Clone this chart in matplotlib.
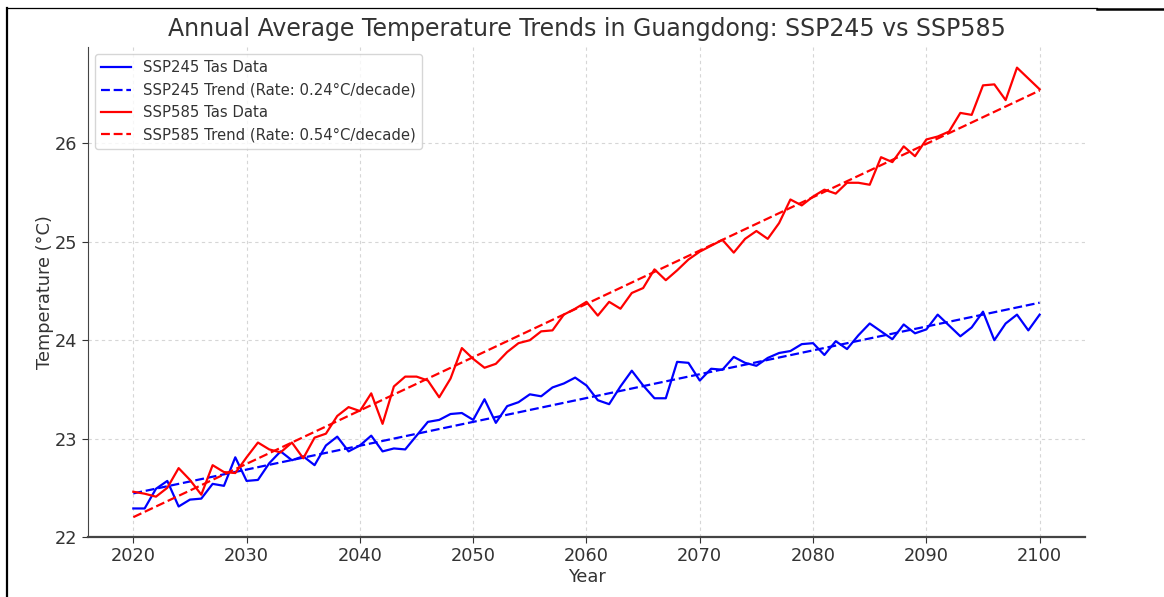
import numpy as np
import matplotlib
matplotlib.use("Agg")
import matplotlib.pyplot as plt
from matplotlib.lines import Line2D

years = list(range(2020, 2101))

ssp245 = [22.29, 22.29, 22.49, 22.57, 22.31, 22.38, 22.39, 22.54, 22.52, 22.81,
          22.57, 22.58, 22.75, 22.87, 22.78, 22.82, 22.73, 22.93, 23.02, 22.87,
          22.93, 23.03, 22.87, 22.90, 22.89, 23.03, 23.17, 23.19, 23.25, 23.26,
          23.19, 23.40, 23.16, 23.33, 23.37, 23.45, 23.43, 23.52, 23.56, 23.62,
          23.54, 23.39, 23.35, 23.53, 23.69, 23.54, 23.41, 23.41, 23.78, 23.77,
          23.59, 23.71, 23.70, 23.83, 23.77, 23.74, 23.82, 23.87, 23.89, 23.96,
          23.97, 23.85, 23.99, 23.91, 24.05, 24.17, 24.09, 24.01, 24.16, 24.07,
          24.11, 24.26, 24.15, 24.04, 24.13, 24.29, 24.00, 24.17, 24.26, 24.10,
          24.26]

ssp585 = [22.46, 22.44, 22.41, 22.50, 22.70, 22.58, 22.43, 22.73, 22.66, 22.65,
          22.81, 22.96, 22.89, 22.86, 22.96, 22.80, 23.01, 23.05, 23.23, 23.32,
          23.28, 23.46, 23.15, 23.53, 23.63, 23.63, 23.59, 23.42, 23.61, 23.92,
          23.81, 23.72, 23.76, 23.88, 23.97, 24.00, 24.09, 24.10, 24.26, 24.32,
          24.39, 24.25, 24.39, 24.32, 24.48, 24.53, 24.72, 24.61, 24.71, 24.82,
          24.90, 24.96, 25.02, 24.89, 25.03, 25.11, 25.03, 25.19, 25.43, 25.37,
          25.46, 25.53, 25.49, 25.60, 25.60, 25.58, 25.86, 25.81, 25.97, 25.87,
          26.04, 26.07, 26.12, 26.31, 26.29, 26.59, 26.60, 26.44, 26.77, 26.66,
          26.55]

labels = ["SSP245 Tas Data", "SSP245 Trend (Rate: 0.24°C/decade)",
          "SSP585 Tas Data", "SSP585 Trend (Rate: 0.54°C/decade)"]
title = "Annual Average Temperature Trends in Guangdong: SSP245 vs SSP585"
xticks = list(range(2020, 2101, 10))
yticks = [22, 23, 24, 25, 26]

x = np.array(years, dtype=float)
t245 = np.polyval(np.polyfit(x, ssp245, 1), x)
t585 = np.polyval(np.polyfit(x, ssp585, 1), x)

txt = "#333333"
fig = plt.figure(figsize=(11.64, 5.97), dpi=100)
ax = fig.add_axes([0.0756, 0.1005, 0.8565, 0.8208])

lw = 1.6
ax.plot(x, ssp245, color="blue", lw=lw, label=labels[0])
ax.plot(x, t245, color="blue", lw=lw, ls=(0, (4, 1.7)), label=labels[1])
ax.plot(x, ssp585, color="red", lw=lw, label=labels[2])
ax.plot(x, t585, color="red", lw=lw, ls=(0, (4, 1.7)), label=labels[3])

ax.set_xlim(2016, 2104)
ax.set_ylim(22.0, 26.98)
ax.set_xticks(xticks)
ax.set_yticks(yticks)
ax.tick_params(labelsize=12.8, colors=txt, length=4)
ax.grid(True, ls=(0, (3, 3)), color="#cccccc", lw=0.8, alpha=0.8)
ax.set_axisbelow(True)
for s in ("top", "right"):
    ax.spines[s].set_visible(False)
ax.spines["left"].set_color("#444444")
ax.spines["bottom"].set_color("#444444")
ax.spines["bottom"].set_linewidth(1.6)

ax.set_title(title, fontsize=17, color=txt, pad=8)
ax.set_xlabel("Year", fontsize=12.8, color=txt, labelpad=2)
ax.set_ylabel("Temperature (°C)", fontsize=12.8, color=txt, labelpad=1)
leg = ax.legend(loc="upper left", fontsize=10.7, framealpha=0.8)
for t in leg.get_texts():
    t.set_color(txt)

W, H = 1164, 597
def fx(px):
    return px / W
def fy(py):
    return 1 - py / H
fig.add_artist(Line2D([fx(7), fx(7)], [fy(8), fy(597)], color="black", lw=1.6, transform=fig.transFigure))
fig.add_artist(Line2D([fx(7), fx(1097)], [fy(8), fy(8)], color="black", lw=0.9, transform=fig.transFigure))
fig.add_artist(Line2D([fx(1097), fx(1164)], [fy(8.5), fy(8.5)], color="black", lw=1.8, transform=fig.transFigure))

fig.savefig("out.png", dpi=100)
